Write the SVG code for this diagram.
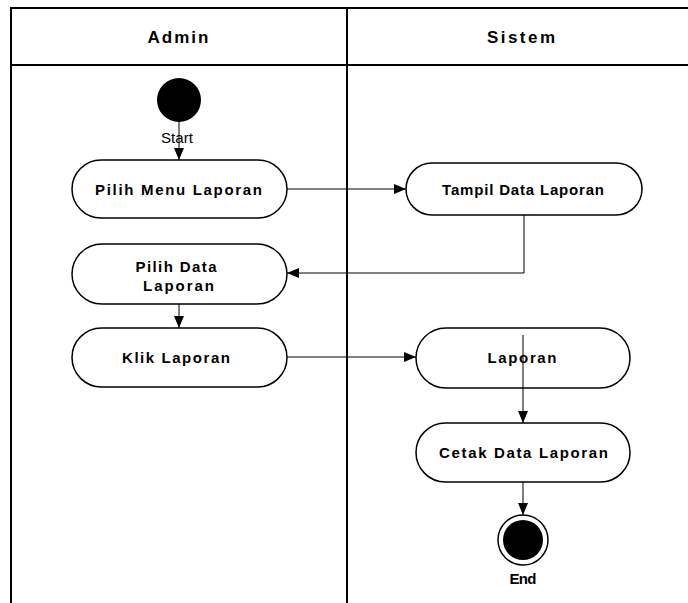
<svg xmlns="http://www.w3.org/2000/svg" width="688" height="603" viewBox="0 0 688 603">
  <style>
    .lane { fill: none; stroke: #000; stroke-width: 2; }
    .act { fill: #fff; stroke: #000; stroke-width: 1.5; }
    .lbl { font-family: "Liberation Sans", Arial, sans-serif; font-size: 15px; font-weight: bold; fill: #000; text-anchor: middle; }
    .hdr { font-family: "Liberation Sans", Arial, sans-serif; font-size: 17px; font-weight: bold; fill: #000; text-anchor: middle; }
    .note { font-family: "Liberation Sans", Arial, sans-serif; font-size: 15px; fill: #000; text-anchor: middle; }
    .flow { fill: none; stroke: #000; stroke-width: 1; }
  </style>
  <defs>
    <marker id="arrow" viewBox="0 0 12 10" refX="12" refY="5" markerWidth="12" markerHeight="10" markerUnits="userSpaceOnUse" orient="auto">
      <path d="M0,0 L12,5 L0,10 Z" fill="#000"/>
    </marker>
  </defs>
  <rect width="688" height="603" fill="#fff"/>

  <!-- swimlanes -->
  <g id="lanes">
    <path class="lane" d="M11,603 V8 H690 M11,65 H690 M347,8 V603"/>
    <text class="hdr" x="178" y="43" textLength="61" lengthAdjust="spacing">Admin</text>
    <text class="hdr" x="521" y="43" textLength="68" lengthAdjust="spacing">Sistem</text>
  </g>

  <g id="start">
    <circle cx="179" cy="100" r="22" fill="#000"/>
    <text class="note" x="177" y="143" textLength="32" lengthAdjust="spacing">Start</text>
  </g>

  <g id="pilih-menu-laporan">
    <rect class="act" x="72" y="160" width="215" height="58" rx="29"/>
    <text class="lbl" x="178.5" y="194.5" textLength="167" lengthAdjust="spacing">Pilih Menu Laporan</text>
  </g>

  <g id="tampil-data-laporan">
    <rect class="act" x="406" y="163" width="236" height="52" rx="26"/>
    <text class="lbl" x="523" y="194.5" textLength="162" lengthAdjust="spacing">Tampil Data Laporan</text>
  </g>

  <g id="pilih-data-laporan">
    <rect class="act" x="72" y="244" width="215" height="60" rx="30"/>
    <text class="lbl" x="176" y="271.5" textLength="81" lengthAdjust="spacing">Pilih Data</text>
    <text class="lbl" x="178.5" y="290.5" textLength="71" lengthAdjust="spacing">Laporan</text>
  </g>

  <g id="klik-laporan">
    <rect class="act" x="72" y="328" width="215" height="59" rx="29.5"/>
    <text class="lbl" x="176" y="362.5" textLength="108" lengthAdjust="spacing">Klik Laporan</text>
  </g>

  <g id="laporan">
    <rect class="act" x="416" y="328" width="214" height="60" rx="30"/>
    <text class="lbl" x="522" y="362.5" textLength="69" lengthAdjust="spacing">Laporan</text>
  </g>

  <g id="cetak-data-laporan">
    <rect class="act" x="416" y="423" width="214" height="59" rx="29.5"/>
    <text class="lbl" x="523.5" y="457.5" textLength="169" lengthAdjust="spacing">Cetak Data Laporan</text>
  </g>

  <g id="end">
    <circle cx="523" cy="540" r="25" fill="#fff" stroke="#000" stroke-width="1.5"/>
    <circle cx="523" cy="540" r="20" fill="#000"/>
    <text class="lbl" x="523" y="583.5" textLength="27" lengthAdjust="spacing">End</text>
  </g>

  <!-- connectors, drawn last so they stay visible over the nodes they cross -->
  <g id="connectors">
    <path class="flow" d="M179,120 V160" marker-end="url(#arrow)"/>
    <path class="flow" d="M287,189 H406" marker-end="url(#arrow)"/>
    <path class="flow" d="M524,215 V273 H287" marker-end="url(#arrow)"/>
    <path class="flow" d="M179,304 V328" marker-end="url(#arrow)"/>
    <path class="flow" d="M287,357 H416" marker-end="url(#arrow)"/>
    <path class="flow" d="M523,335 V423" marker-end="url(#arrow)"/>
    <path class="flow" d="M523,482 V515" marker-end="url(#arrow)"/>
  </g>
</svg>
